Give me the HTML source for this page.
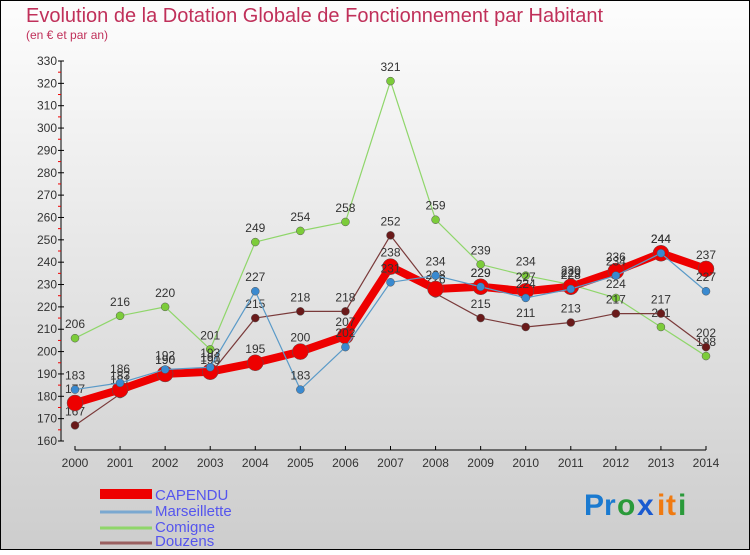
<!DOCTYPE html>
<html><head><meta charset="utf-8"><style>
html,body{margin:0;padding:0}
body{width:750px;height:550px;overflow:hidden;font-family:"Liberation Sans","DejaVu Sans",sans-serif}
</style></head><body>
<svg id="chart" width="750" height="550" xmlns="http://www.w3.org/2000/svg">
<defs><linearGradient id="bg" x1="0" y1="0" x2="0" y2="1"><stop offset="0" stop-color="#fdfdfd"/><stop offset="1" stop-color="#cdcdcd"/></linearGradient></defs>
<rect x="0.5" y="0.5" width="749" height="549" fill="url(#bg)" stroke="#000"/>
<text x="26" y="22" font-size="20" fill="#c0305a">Evolution de la Dotation Globale de Fonctionnement par Habitant</text>
<text x="26" y="39" font-size="12" fill="#c0305a">(en € et par an)</text>
<g id="axes"></g><g id="series"></g>
<g>
<rect x="100" y="489" width="52" height="10" fill="#ee0000"/>
<text x="155" y="500" font-size="15" fill="#5555ee">CAPENDU</text>
<line x1="100" y1="512" x2="152" y2="512" stroke="#7aa8d0" stroke-width="3"/>
<text x="155" y="516" font-size="15" fill="#5555ee">Marseillette</text>
<line x1="100" y1="528" x2="152" y2="528" stroke="#8fd66a" stroke-width="3"/>
<text x="155" y="532" font-size="15" fill="#5555ee">Comigne</text>
<line x1="100" y1="543" x2="152" y2="543" stroke="#9a6060" stroke-width="3"/>
<text x="155" y="546" font-size="15" fill="#5555ee">Douzens</text>
</g>
<g font-size="30" font-weight="bold">
<text x="584" y="515" fill="#1a7ad0">P</text><text x="604" y="515" fill="#1a7ad0">r</text><text x="617" y="515" fill="#2a9a3a">o</text><text x="637" y="515" fill="#1a5ad0">x</text><text x="657" y="515" fill="#f07a10">i</text><text x="666" y="515" fill="#f07a10">t</text><text x="678" y="515" fill="#2a9a3a">i</text>
</g>
</svg>
<script>
const years=[2000,2001,2002,2003,2004,2005,2006,2007,2008,2009,2010,2011,2012,2013,2014];
const capendu=[177,183,190,191,195,200,207,238,228,229,227,229,236,244,237];
const marseillette=[183,186,192,193,227,183,202,231,234,229,224,228,234,244,227];
const comigne=[206,216,220,201,249,254,258,321,259,239,234,230,224,211,198];
const douzens=[167,181,190,190,215,218,218,252,226,215,211,213,217,217,202];
const yTicks=[160,170,180,190,200,210,220,230,240,250,260,270,280,290,300,310,320,330];
const NS='http://www.w3.org/2000/svg';
const X0=75,X1=706,Y0=441,Y1=61,YMIN=160,YMAX=330;
function xs(i){return X0+(X1-X0)*i/(years.length-1);}
function ys(v){return Y0-(v-YMIN)*(Y0-Y1)/(YMAX-YMIN);}
function mk(tag,attrs,parent){const e=document.createElementNS(NS,tag);for(const k in attrs)e.setAttribute(k,attrs[k]);parent.appendChild(e);return e;}
const ax=document.getElementById('axes');
let e=mk('line',{x1:61,y1:Y1,x2:61,y2:Y0,stroke:'#000'},ax);


e=mk('line',{x1:X0,y1:450,x2:X1,y2:450,stroke:'#000'},ax);


yTicks.forEach((t,i)=>{
  const y=ys(t);
  mk('line',{x1:58,y1:y,x2:64,y2:y,stroke:'#000'},ax);
  if(i<yTicks.length-1){mk('line',{x1:58,y1:y-(Y0-Y1)/34,x2:61,y2:y-(Y0-Y1)/34,stroke:'#e00'},ax);}
  const tx=mk('text',{x:57,y:y+4,'font-size':12,'text-anchor':'end',fill:'#333'},ax);
  tx.textContent=t;
  
  
});
years.forEach((yr,i)=>{
  const x=xs(i);
  mk('line',{x1:x,y1:446,x2:x,y2:450,stroke:'#000'},ax);
  const tx=mk('text',{x:x,y:467,'font-size':12,'text-anchor':'middle',fill:'#333'},ax);
  tx.textContent=yr;
  
  
});
const sg=document.getElementById('series');
function series(vals,name,color,w,r,dot,labels){
  const g=mk('g',{},sg);
  
  
  const pts=vals.map((v,i)=>xs(i)+','+ys(v)).join(' ');
  const pl=mk('polyline',{points:pts,fill:'none',stroke:color,'stroke-width':w,'stroke-linejoin':'round'},g);
  
  
  vals.forEach((v,i)=>{
    const c=mk('circle',{cx:xs(i),cy:ys(v),r:r,fill:dot,stroke:'#555','stroke-width':0.5},g);
    
    
    const t=mk('text',{x:xs(i),y:ys(v)-10,'font-size':12,'text-anchor':'middle',fill:'#333'},g);
    t.textContent=v;
    
    
  });
}
series(comigne,'comigne','#8fd66a',1.2,4,'#7ccc3a');
series(douzens,'douzens','#7a3a3a',1.2,4,'#6a1a1a');
series(capendu,'capendu','#ee0000',8,8,'#ee0000');
series(marseillette,'marseillette','#5a9ac8',1.2,4,'#3a8ad0');
</script>
</body></html>
